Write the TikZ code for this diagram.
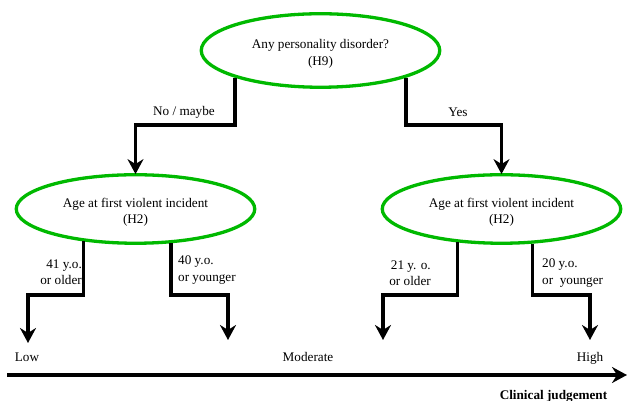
\documentclass[tikz,border=0pt]{standalone}
\usepackage{fontspec}
\setmainfont{Liberation Serif}
\usetikzlibrary{arrows.meta,shapes.geometric}
\definecolor{dgreen}{RGB}{0,185,0}
\begin{document}
\begin{tikzpicture}[x=1pt,y=1pt,
  font=\fontsize{13.2}{16.5}\selectfont,
  question/.style={ellipse,draw=dgreen,line width=3.3pt,fill=white,inner sep=0pt},
  qtext/.style={align=center,inner sep=0pt},
  tip/.style={-{Stealth[length=15pt,width=16pt,inset=5pt]}},
  arr/.style={line width=3.3pt,tip},
  lab/.style={inner sep=0pt}]
\useasboundingbox (0,0) rectangle (627,401);
% decision nodes
\node[question,minimum width=238.5pt,minimum height=73.5pt] (T) at (320.5,350.5) {};
\node[question,minimum width=238.5pt,minimum height=68.5pt] (L) at (135.5,192) {};
\node[question,minimum width=238.5pt,minimum height=68.5pt] (R) at (501.5,192) {};
\node[qtext] (Tt) at ([yshift=-3.5pt]T.center) {Any personality disorder?\\(H9)};
\node[qtext] (Lt) at ([yshift=-3.5pt]L.center) {Age at first violent incident\\(H2)};
\node[qtext] (Rt) at ([yshift=-3.5pt]R.center) {Age at first violent incident\\(H2)};
% end points of the bottom arrows
\coordinate (e1) at (28,58);
\coordinate (e2) at (228,61);
\coordinate (e3) at (383,61);
\coordinate (e4) at (590,61);
% top connectors
\draw[arr] (T.south west) -- ++(0,-47.3) -| ([yshift=-1pt]L.north);
\draw[arr] (T.south east) -- ++(0,-47.3) -| ([yshift=-1pt]R.north);
\node[lab] (nomaybe) at (184,289) {No / maybe};
\node[lab] (yes) at (458,289) {Yes};
% bottom connectors
\draw[arr] (L.212.9) |- (60,106) -| (e1);
\draw[arr] (L.316.8) |- (200,106) -| (e2);
\draw[arr] (R.217) |- (420,106) -| (e3);
\draw[arr] (R.312.2) |- (560,106) -| (e4);
\node[lab,anchor=east,align=right] (l1) at (82,129) {41 y.o.\\or older};
\node[lab,anchor=west,align=left] (l2) at (178,131) {40 y.o.\\or younger};
\node[lab,anchor=east,align=right] (l3) at (431,128) {21 y. o.\\or older};
\node[lab,anchor=west,align=left] (l4) at (542,128) {20 y.o.\\or\ \ younger};
% axis
\node[lab] (low) at (27,43.5) {Low};
\node[lab] (mod) at (308,44) {Moderate};
\node[lab] (high) at (590,43) {High};
\coordinate (a0) at (7,26);
\coordinate (a1) at (627,26);
\draw[arr] (a0) -- (a1);
\node[lab,font=\fontsize{13.2}{15}\selectfont\bfseries] (cj) at (553.5,4.5) {Clinical judgement};
\end{tikzpicture}
\end{document}
